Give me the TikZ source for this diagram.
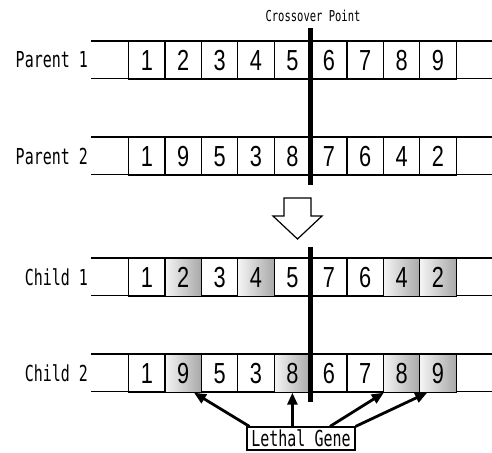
\documentclass[tikz,border=0pt]{standalone}
\usepackage{fontspec}
\usepackage{graphicx}
\usetikzlibrary{arrows.meta,calc}
\newfontfamily\labfont{DejaVu Sans Mono}
\newfontfamily\digfont{Liberation Sans}
\begin{document}
\begin{tikzpicture}[x=1pt,y=-1pt,
  rowlab/.style={anchor=east,inner sep=0pt,font=\labfont\fontsize{22}{22}\selectfont},
  cell/.style={draw=black,line width=1.2pt,minimum width=36.4pt,minimum height=37.5pt,inner sep=0pt,anchor=north west,font=\digfont\fontsize{29}{29}\selectfont},
  lethal/.style={cell,left color=gray!8,right color=gray!68},
  strip/.style={line width=1.2pt},
  xline/.style={line width=5pt},
  pointer/.style={line width=2.8pt,-{Triangle[length=12pt,width=10pt]}}]
\useasboundingbox (0,0) rectangle (492,452);
\newcommand{\nar}[1]{\scalebox{0.68}[1]{#1}}
\newcommand{\dg}[1]{\scalebox{0.75}[1]{#1}}
\def\xs{{128,164.4,200.8,237.2,273.6,310,346.4,382.8,419.2}}
\foreach \r/\yt/\lab/\digs/\shd in {
  p1/41/{Parent 1}/{1,2,3,4,5,6,7,8,9}/{0,0,0,0,0,0,0,0,0},
  p2/137/{Parent 2}/{1,9,5,3,8,7,6,4,2}/{0,0,0,0,0,0,0,0,0},
  c1/258/{Child 1}/{1,2,3,4,5,7,6,4,2}/{0,1,0,1,0,0,0,1,1},
  c2/354/{Child 2}/{1,9,5,3,8,6,7,8,9}/{0,1,0,0,1,0,0,1,1}}{
  \draw[strip] (91,\yt) -- (492,\yt) (91,\yt+37.5) -- (492,\yt+37.5);
  \node[rowlab] (\r lab) at (88,\yt+19) {\nar{\lab}};
  \foreach \d [count=\i] in \digs {
    \pgfmathsetmacro{\xx}{\xs[\i-1]}
    \pgfmathtruncatemacro{\sh}{{\shd}[\i-1]}
    \ifnum\sh=1
      \node[lethal] (\r\i) at (\xx,\yt) {\dg{\d}};
    \else
      \node[cell] (\r\i) at (\xx,\yt) {\dg{\d}};
    \fi
  }
}
% crossover line
\node[inner sep=0pt,font=\labfont\fontsize{15}{15}\selectfont] (xlab) at (313,16) {\scalebox{0.7}[1]{Crossover Point}};
\coordinate (xa) at (310,28);
\coordinate (xb) at (310,185);
\coordinate (xc) at (310,247);
\coordinate (xd) at (310,402);
\draw[xline] (xa) -- (xb);
\draw[xline] (xc) -- (xd);
% hollow arrow
\draw[line width=1.2pt,fill=white] (284,198) -- (311,198) -- (311,216) -- (322,216) -- (297.5,239) -- (273,216) -- (284,216) -- cycle;
% lethal gene box
\node[draw=black,line width=1.2pt,inner sep=1pt,minimum height=23pt,minimum width=108pt,font=\labfont\fontsize{22}{22}\selectfont] (lg) at (301,438.5) {\nar{Lethal Gene}};
\draw[pointer] ([xshift=3pt]lg.north west) -- ([xshift=-8pt]c22.south east);
\draw[pointer] (lg.north -| c25.south) -- (c25.south);
\draw[pointer] ([xshift=29pt]lg.north) -- ([xshift=1pt]c28.south west);
\draw[pointer] (lg.north east) -- ([xshift=8pt]c29.south west);
\end{tikzpicture}
\end{document}
